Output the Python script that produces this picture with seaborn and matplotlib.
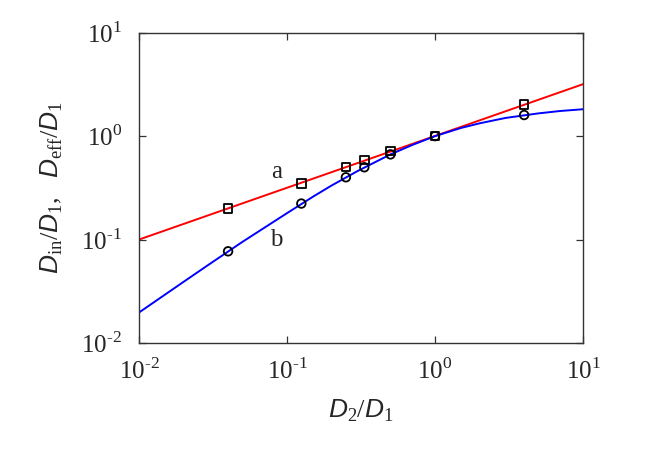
import numpy as np
import pandas as pd
import seaborn as sns
import matplotlib.pyplot as plt
from matplotlib.ticker import LogLocator, NullLocator, FuncFormatter

# values
ratio_pts = [0.04, 0.125, 0.25, 0.333, 0.5, 1.0, 4.0]
din_pts = [0.20, 0.35, 0.505, 0.585, 0.72, 1.0, 2.02]
deff_pts = [0.077, 0.223, 0.40, 0.50, 0.666, 1.0, 1.60]

# curve a (straight line on log-log)
line_a_x = [0.01, 10.0]
line_a_y = [0.1, 3.18]

# curve b
line_b_x = [0.01, 0.02, 0.03, 0.05, 0.1, 0.15, 0.2, 0.3, 0.5, 0.7, 1.0, 1.5, 2.0, 3.0, 5.0, 7.0, 10.0]
line_b_y = [0.0197, 0.039, 0.058, 0.095, 0.18, 0.26, 0.333, 0.46, 0.666, 0.82, 1.0, 1.2, 1.33, 1.5, 1.66, 1.75, 1.82]

sns.set_style("ticks")
plt.rcParams["mathtext.fontset"] = "custom"
plt.rcParams["mathtext.rm"] = "Liberation Serif"
plt.rcParams["mathtext.it"] = "Liberation Sans:italic"
plt.rcParams["font.family"] = ["Liberation Serif", "DejaVu Serif"]

fig = plt.figure(figsize=(6.54, 4.58), dpi=100)
ax = fig.add_axes([0.2125, 0.2511, 0.6790, 0.6775])

df_a = pd.DataFrame({"x": line_a_x, "y": line_a_y})
df_b = pd.DataFrame({"x": line_b_x, "y": line_b_y})
sns.lineplot(data=df_a, x="x", y="y", color="#ff0000", lw=1.4, ax=ax, sort=False)
sns.lineplot(data=df_b, x="x", y="y", color="#0000ff", lw=1.4, ax=ax, sort=False)

sns.scatterplot(x=ratio_pts, y=din_pts, marker="s", s=38, facecolor="none",
                edgecolor="black", linewidth=1.3, ax=ax, zorder=5)
sns.scatterplot(x=ratio_pts, y=deff_pts, marker="o", s=38, facecolor="none",
                edgecolor="black", linewidth=1.3, ax=ax, zorder=5)

ax.set_xscale("log")
ax.set_yscale("log")
ax.set_xlim(0.01, 10)
ax.set_ylim(0.01, 10)


def dec_fmt(v, pos):
    e = int(round(np.log10(v)))
    s = str(e).replace("-", "\u2010")
    return r"$10^{\mathrm{" + s + "}}$"


ax.xaxis.set_major_locator(LogLocator(base=10, numticks=10))
ax.yaxis.set_major_locator(LogLocator(base=10, numticks=10))
ax.xaxis.set_minor_locator(NullLocator())
ax.yaxis.set_minor_locator(NullLocator())
ax.xaxis.set_major_formatter(FuncFormatter(dec_fmt))
ax.yaxis.set_major_formatter(FuncFormatter(dec_fmt))
ax.tick_params(which="major", direction="in", top=True, right=True,
               length=5, width=0.9, labelsize=18, pad=11, color="#333333")
ax.tick_params(axis="y", pad=12)

for s in ax.spines.values():
    s.set_linewidth(1.0)
    s.set_color("#333333")

ax.text(0.085, 0.45, "a", fontsize=18, ha="center", va="center")
ax.text(0.085, 0.099, "b", fontsize=18, ha="center", va="center")

ax.set_xlabel(r"$D_{\rm 2}/D_{\rm 1}$", fontsize=19, labelpad=10)
ax.set_ylabel(r"$D_{\rm in}/D_{\rm 1},\ \ D_{\rm eff}/D_{\rm 1}$", fontsize=19, labelpad=12)

fig.savefig("out.png", dpi=100)
